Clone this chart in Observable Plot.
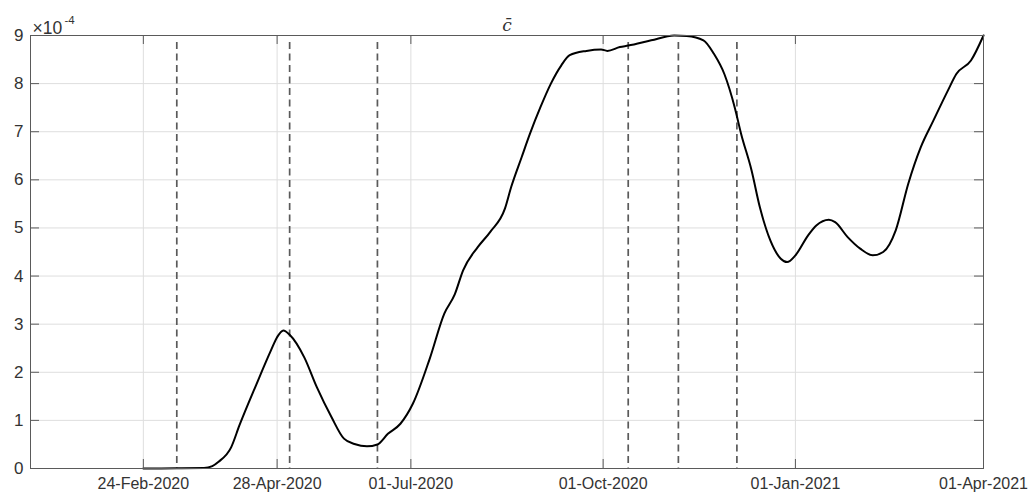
<!DOCTYPE html>
<html><head><meta charset="utf-8">
<script src="https://cdn.jsdelivr.net/npm/d3@7"></script>
<script src="https://cdn.jsdelivr.net/npm/@observablehq/plot@0.6"></script>
<style>html,body{margin:0;padding:0;background:#fff;}#chart{width:1033px;height:496px;}</style>
</head><body><div id="chart"></div>
<script>
// Dates of the series
const dates = [
  "2020-02-24","2020-03-11","2020-03-24","2020-03-28","2020-03-31","2020-04-06","2020-04-10","2020-04-18",
  "2020-04-25","2020-04-28","2020-05-01","2020-05-04","2020-05-11","2020-05-17","2020-05-24","2020-05-30",
  "2020-06-04","2020-06-10","2020-06-15","2020-06-20","2020-06-26","2020-07-02","2020-07-10","2020-07-17",
  "2020-07-22","2020-07-26","2020-08-02","2020-08-08","2020-08-15","2020-08-18","2020-08-23","2020-08-27",
  "2020-09-01","2020-09-06","2020-09-11","2020-09-15","2020-09-23","2020-09-30","2020-10-03","2020-10-09",
  "2020-10-13","2020-10-24","2020-11-04","2020-11-10","2020-11-18","2020-11-23","2020-11-28","2020-12-03",
  "2020-12-06","2020-12-11","2020-12-15","2020-12-20","2020-12-25","2020-12-28","2021-01-01","2021-01-07",
  "2021-01-11","2021-01-17","2021-01-20","2021-01-26","2021-02-01","2021-02-07","2021-02-12","2021-02-18",
  "2021-02-24","2021-03-02","2021-03-08","2021-03-15","2021-03-19","2021-03-26","2021-04-01"
];
// c-bar values, in units of 1e-4
const cbar = [
  0.00, 0.005, 0.01, 0.05, 0.14, 0.44, 0.90, 1.74,
  2.45, 2.73, 2.87, 2.78, 2.31, 1.69, 1.07, 0.62,
  0.51, 0.46, 0.50, 0.72, 0.93, 1.35, 2.28, 3.22,
  3.62, 4.12, 4.60, 4.92, 5.40, 5.85, 6.47, 6.96,
  7.51, 8.00, 8.38, 8.59, 8.68, 8.71, 8.68, 8.76,
  8.79, 8.90, 9.00, 8.99, 8.90, 8.62, 8.20, 7.50,
  6.96, 6.20, 5.43, 4.74, 4.36, 4.29, 4.43, 4.84,
  5.05, 5.17, 5.12, 4.81, 4.57, 4.43, 4.50, 4.95,
  5.92, 6.68, 7.23, 7.86, 8.20, 8.48, 9.00
];
// Dashed event lines
const eventDates = ["2020-03-11","2020-05-04","2020-06-15","2020-10-13","2020-11-06","2020-12-04"];
// Axis ticks
const xTickDates = ["2020-02-24","2020-04-28","2020-07-01","2020-10-01","2021-01-01","2021-04-01"];
const yTicks = [0,1,2,3,4,5,6,7,8,9];
const xDomain = ["2020-01-01","2021-04-01"];
const yDomain = [0, 9];
const titleText = "c\u0304";
const expBase = "\u00d710";
const expPower = "-4";

const series = dates.map((d, i) => ({date: new Date(d), value: cbar[i]}));
const events = eventDates.map(d => new Date(d));
const xTicks = xTickDates.map(d => new Date(d));

const W = 1033, H = 496, mL = 30, mR = 50, mT = 35, mB = 28;
const fw = W - mL - mR, fh = H - mT - mB, tk = 9;
const axisColor = "#5a5a5a";

const chart = Plot.plot({
  width: W, height: H,
  marginLeft: mL, marginRight: mR, marginTop: mT, marginBottom: mB,
  style: {fontFamily: "'Liberation Sans', Arial, sans-serif", fontSize: "16px", color: "#262626", background: "#fff", overflow: "visible"},
  x: {type: "utc", domain: xDomain.map(d => new Date(d)), label: null},
  y: {domain: yDomain, label: null},
  marks: [
    Plot.gridX(xTicks, {stroke: "#dedede", strokeOpacity: 1}),
    Plot.gridY(yTicks, {stroke: "#dedede", strokeOpacity: 1}),
    Plot.ruleX(events, {stroke: "#5a5a5a", strokeWidth: 1.7, strokeDasharray: "7,4.5", insetTop: 7}),
    Plot.line(series, {x: "date", y: "value", stroke: "#000", strokeWidth: 2, curve: "monotone-x"}),
    Plot.frame({stroke: axisColor}),
    Plot.ruleX(xTicks, {stroke: axisColor, insetTop: fh - tk}),
    Plot.ruleX(xTicks, {stroke: axisColor, insetBottom: fh - tk}),
    Plot.ruleY(yTicks, {stroke: axisColor, insetRight: fw - tk}),
    Plot.ruleY(yTicks, {stroke: axisColor, insetLeft: fw - tk}),
    Plot.axisX({ticks: xTicks, tickSize: 0, tickPadding: 9, tickFormat: d3.utcFormat("%d-%b-%Y"), fontSize: 16, fill: "#333"}),
    Plot.axisY({ticks: yTicks, tickSize: 0, tickPadding: 7, tickFormat: d => String(d), fontSize: 17, fill: "#333"}),
    Plot.text([titleText], {frameAnchor: "top", dy: -5, lineAnchor: "bottom", fontFamily: "'DejaVu Serif', serif", fontStyle: "italic", fontSize: 17, fill: "#333"}),
    Plot.text([expBase], {frameAnchor: "top-left", textAnchor: "start", dx: 2, dy: -2, lineAnchor: "bottom", fontSize: 17.5, fill: "#333"}),
    Plot.text([expPower], {frameAnchor: "top-left", textAnchor: "start", dx: 34, dy: -12, lineAnchor: "bottom", fontSize: 11.5, fill: "#333"})
  ]
});
document.getElementById("chart").appendChild(chart);
</script>
</body></html>
